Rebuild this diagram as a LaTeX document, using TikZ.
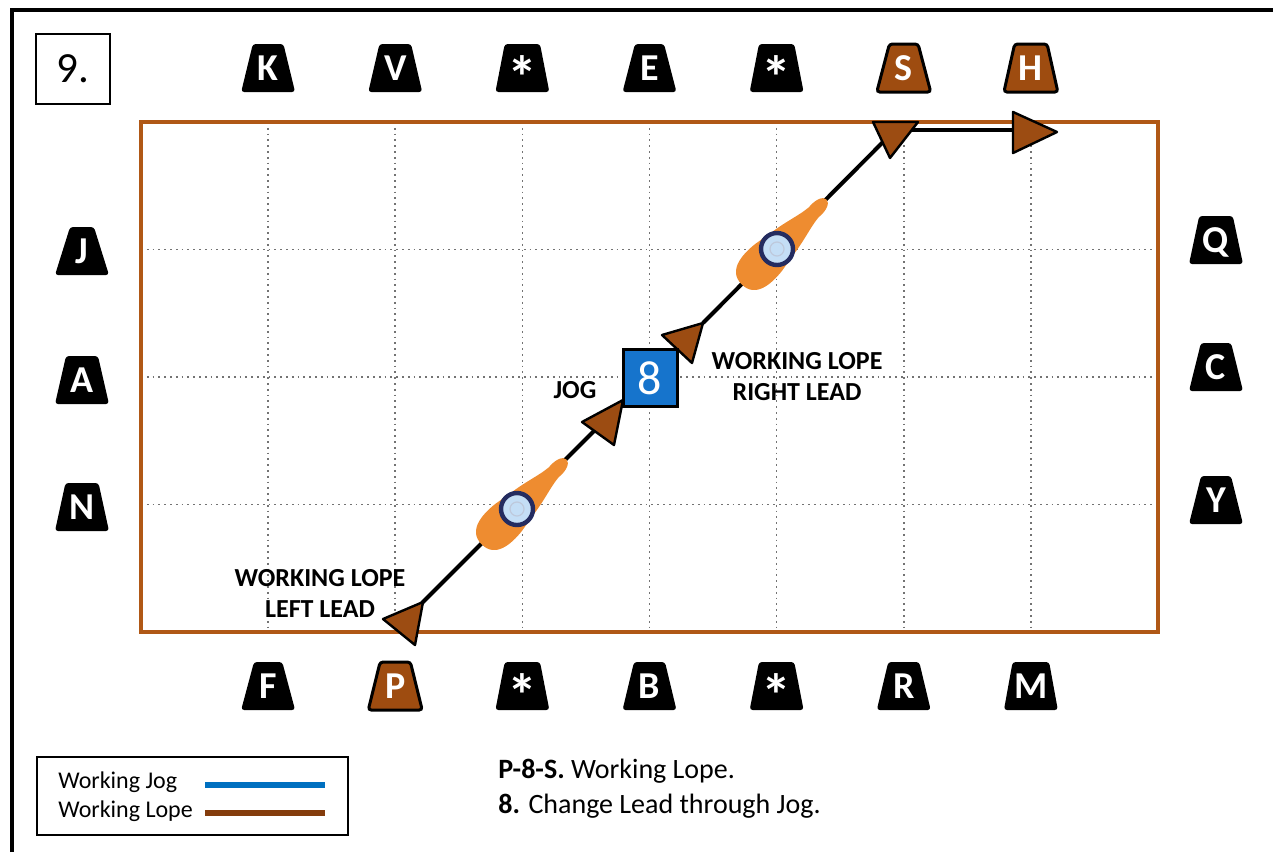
\documentclass[tikz,border=0pt]{standalone}
\usepackage{fontspec}
\setmainfont{Carlito}
\usetikzlibrary{shapes.geometric}

\definecolor{arenabrown}{RGB}{176,88,22}
\definecolor{markerbrown}{RGB}{158,76,16}
\definecolor{tipbrown}{RGB}{156,76,18}
\definecolor{legendbrown}{RGB}{132,60,12}
\definecolor{jogblue}{RGB}{0,112,192}
\definecolor{boxblue}{RGB}{22,116,204}
\definecolor{horseorange}{RGB}{238,140,48}
\definecolor{riderblue}{RGB}{196,222,246}
\definecolor{ridernavy}{RGB}{36,44,96}

\tikzset{
  gridline/.style={black!55, line width=0.8pt, dash pattern=on 0.9pt off 2pt},
  arena/.style={arenabrown, line width=2pt},
  letter/.style={trapezium, trapezium angle=72, trapezium stretches=true,
    minimum width=27pt, minimum height=24pt, inner sep=0pt, fill=black,
    rounded corners=1.5pt, text=white, text height=12.2pt, text depth=0pt,
    font=\bfseries\fontsize{19}{19}\selectfont},
  brownletter/.style={letter, fill=markerbrown, draw=black, line width=1.5pt},
  lopeline/.style={black, line width=2pt},
  lopetip/.style={draw=black, fill=tipbrown, line width=1.2pt, line join=round},
  callout/.style={font=\bfseries\fontsize{13}{15.5}\selectfont, align=center},
  horse/.pic={
    % rump, body and neck
    \fill[horseorange] (-50,0) .. controls (-50,19) and (-30,21) .. (-12,19)
      -- (12,15) .. controls (30,12) and (40,8) .. (52,7)
      .. controls (62,8) and (70,5) .. (70,0)
      .. controls (70,-5) and (62,-8) .. (52,-7)
      .. controls (40,-8) and (30,-12) .. (12,-15)
      -- (-12,-19) .. controls (-30,-21) and (-50,-19) .. (-50,0) -- cycle;
    % rider
    \draw[fill=riderblue, draw=ridernavy, line width=2.2pt] (0,0) circle [radius=16];
    \draw[white!55!riderblue!80!ridernavy, line width=0.6pt] (0,0) circle [radius=7];
  }
}

\newcommand\lopetri[3]{\draw[lopetip] #1 -- #2 -- #3 -- cycle;}
\newcommand\arenastar{\smash{\raisebox{-9pt}{\fontsize{30}{30}\selectfont *}}}

\begin{document}
\begin{tikzpicture}[x=0.5pt, y=-0.5pt]
  \useasboundingbox (0,0) rectangle (1273,852);

  % page frame
  \draw[line width=2pt] (12,852) -- (12,10) -- (1273,10);

  % pattern number
  \node[draw, line width=1pt, minimum width=37pt, minimum height=35pt,
    font=\fontsize{21.5}{21.5}\selectfont] (num) at (73,69) {9.};

  % arena with dotted grid
  \foreach \i in {1,...,7}
    \draw[gridline] (141+127.125*\i,122) -- (141+127.125*\i,632);
  \foreach \j in {1,2,3}
    \draw[gridline] (141,122+127.5*\j) -- (1158,122+127.5*\j);
  \draw[arena] (141,122) rectangle (1158,632);

  % route
  \coordinate (pStart) at (422,603);
  \coordinate (jogEnd) at (605,420);
  \coordinate (leadStart) at (703,323);
  \coordinate (sTurn) at (885,140);
  \coordinate (sOut) at (905,130);
  \coordinate (hEnd) at (1020,130);
  \draw[lopeline] (pStart) -- (jogEnd);
  \draw[lopeline] (leadStart) -- (sTurn);
  \draw[lopeline] (sOut) -- (hEnd);

  \lopetri{(383,619)}{(423,602)}{(415,645)}
  \lopetri{(582,422)}{(623,400)}{(614,445)}
  \lopetri{(662,335)}{(703,323)}{(692,363)}
  \lopetri{(873,122)}{(918,122)}{(890,158)}
  \lopetri{(1013,112)}{(1013,153)}{(1057,132)}

  \node[fill=boxblue, draw=black, line width=1.5pt, minimum width=27pt,
    minimum height=28.5pt, inner sep=0pt, text=white,
    font=\fontsize{24}{24}\selectfont] (eight) at (650,378) {8};

  \pic[rotate=45] (horseA) at (517,509) {horse};
  \pic[rotate=45] (horseB) at (777,249) {horse};

  \node[callout] (jog) at (575,390) {JOG};
  \node[callout] (rightLead) at (797,377) {WORKING LOPE\\RIGHT LEAD};
  \node[callout] (leftLead) at (320,593) {WORKING LOPE\\LEFT LEAD};

  % arena letters
  \foreach \lbl/\sty [count=\i] in {K/letter, V/letter, \arenastar/letter,
      E/letter, \arenastar/letter, S/brownletter, H/brownletter}
    \node[\sty] (top\i) at (141+127.125*\i,68) {\lbl};
  \foreach \lbl/\sty [count=\i] in {F/letter, P/brownletter, \arenastar/letter,
      B/letter, \arenastar/letter, R/letter, M/letter}
    \node[\sty] (bot\i) at (141+127.125*\i,686) {\lbl};
  \foreach \lbl/\y in {J/251, A/380, N/507}
    \node[letter] (left\lbl) at (82,\y) {\lbl};
  \foreach \lbl/\y in {Q/240, C/367, Y/500}
    \node[letter] (right\lbl) at (1216,\y) {\lbl};

  % legend
  \draw[line width=1pt] (37,757) rectangle (348,835);
  \node[anchor=base west, inner sep=0pt, font=\fontsize{12}{14}\selectfont]
    (jogKey) at (58,788) {Working Jog};
  \node[anchor=base west, inner sep=0pt, font=\fontsize{12}{14}\selectfont]
    (lopeKey) at (58,817) {Working Lope};
  \draw[jogblue, line width=3pt] (205,785) -- (325,785);
  \draw[legendbrown, line width=3pt] (205,813) -- (325,813);

  % pattern notes
  \node[anchor=base west, inner sep=0pt, font=\fontsize{14}{16}\selectfont]
    (noteA) at (498,778) {\textbf{P-8-S.} Working Lope.};
  \node[anchor=base west, inner sep=0pt, font=\fontsize{14}{16}\selectfont]
    (noteB) at (498,813) {\textbf{8.} Change Lead through Jog.};
\end{tikzpicture}
\end{document}
